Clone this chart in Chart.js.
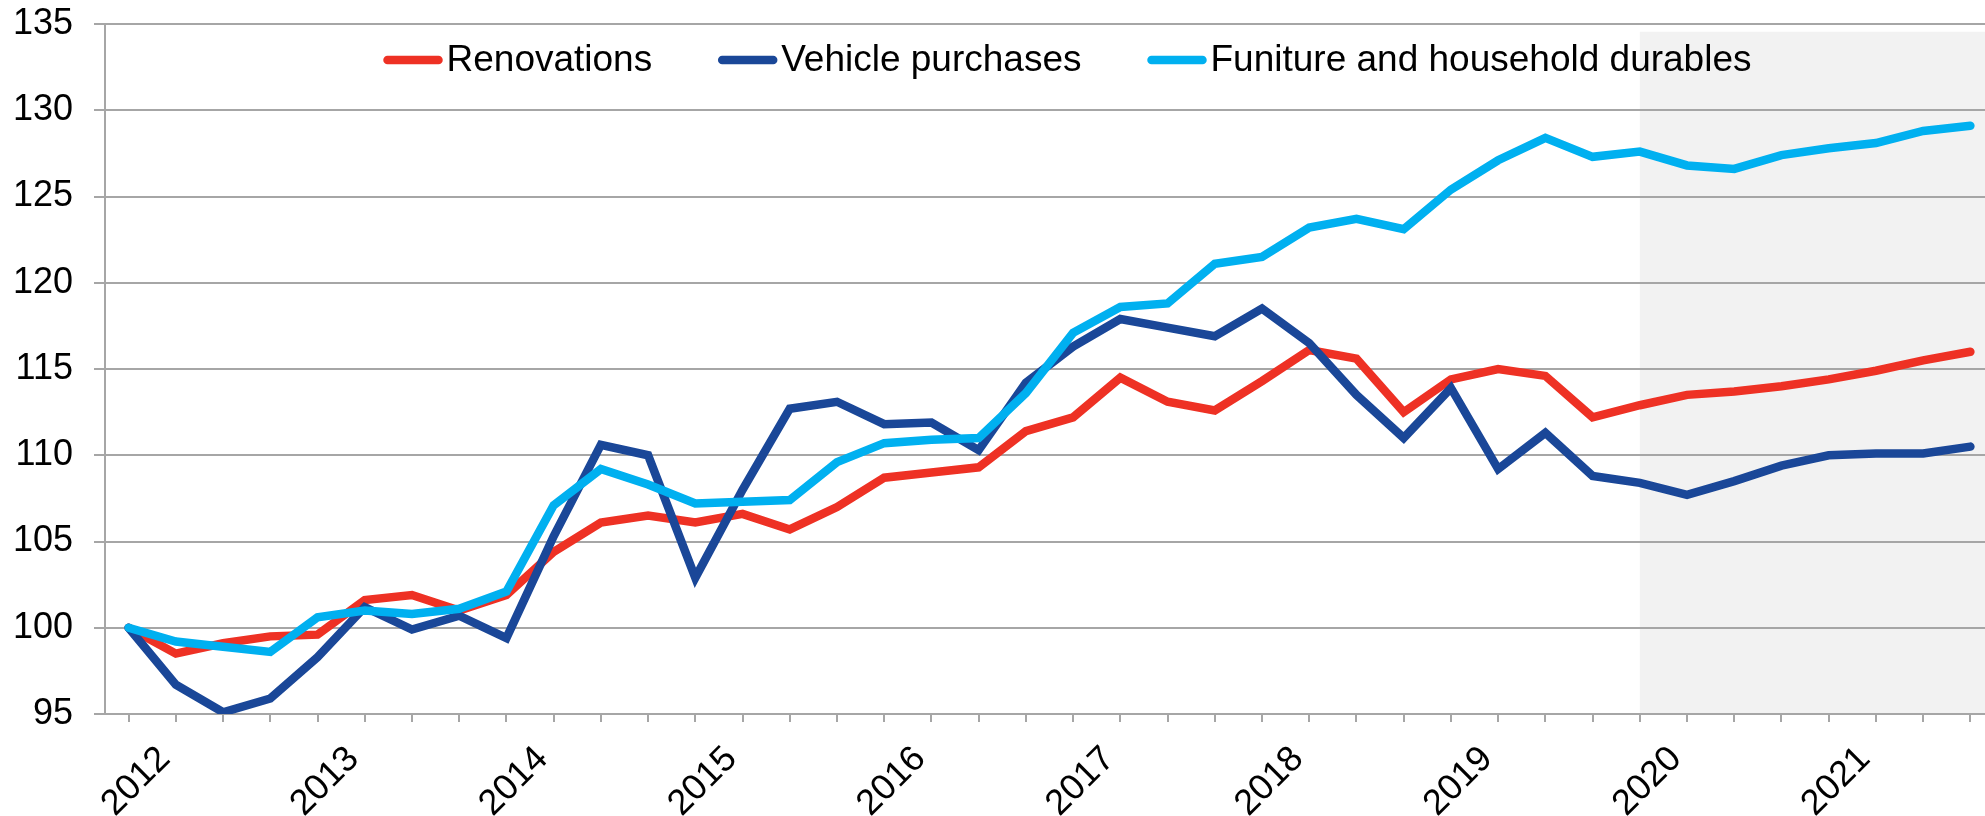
<!DOCTYPE html>
<html>
<head>
<meta charset="utf-8">
<script src="https://cdn.jsdelivr.net/npm/chart.js@4.4.1/dist/chart.umd.min.js"></script>
<style>
    html, body { margin: 0; padding: 0; background: #fff; overflow: hidden; }
    #wrap { width: 1994px; height: 816px; }
</style>
</head>
<body>
<div id="wrap"><canvas id="chart" width="1994" height="816"></canvas></div>
<script>
// カテゴリ（四半期）
const years = [2012, 2013, 2014, 2015, 2016, 2017, 2018, 2019, 2020, 2021];
const quarters = [];
years.forEach(y => {
    for (let q = 1; q <= 4; q++) quarters.push(y + "Q" + q);
});

// 系列
const renovations = [
    100.0, 98.5, 99.1, 99.5, 99.6, 101.6, 101.9, 101.0, 101.9, 104.4,
    106.1, 106.5, 106.1, 106.6, 105.7, 107.0, 108.7, 109.0, 109.3, 111.4,
    112.2, 114.5, 113.1, 112.6, 114.3, 116.1, 115.6, 112.5, 114.4, 115.0,
    114.6, 112.2, 112.9, 113.5, 113.7, 114.0, 114.4, 114.9, 115.5, 116.0
];
const vehicles = [
    100.0, 96.7, 95.1, 95.9, 98.3, 101.2, 99.9, 100.7, 99.4, 105.3,
    110.6, 110.0, 102.9, 108.0, 112.7, 113.1, 111.8, 111.9, 110.3, 114.2,
    116.3, 117.9, 117.4, 116.9, 118.5, 116.5, 113.5, 111.0, 113.9, 109.2,
    111.3, 108.8, 108.4, 107.7, 108.5, 109.4, 110.0, 110.1, 110.1, 110.5
];
const furniture = [
    100.0, 99.2, 98.9, 98.6, 100.6, 101.0, 100.8, 101.1, 102.1, 107.1,
    109.2, 108.3, 107.2, 107.3, 107.4, 109.6, 110.7, 110.9, 111.0, 113.6,
    117.1, 118.6, 118.8, 121.1, 121.5, 123.2, 123.7, 123.1, 125.4, 127.1,
    128.4, 127.3, 127.6, 126.8, 126.6, 127.4, 127.8, 128.1, 128.8, 129.1
];
const seriesNames = ["Renovations", "Vehicle purchases", "Funiture and household durables"];

// 目盛
const yMin = 95;
const yMax = 135;
const yStep = 5;

// 予測期間の網掛け
const shadeFrom = "2020Q1";
const shadeTop = 134.55;

const FONT = "'Liberation Sans', Arial, sans-serif";
const GRID = "#a6a6a6";

// 網掛け
const shadePlugin = {
    id: "forecastShade",
    beforeDraw(chart) {
        const { ctx, chartArea, scales } = chart;
        const x0 = scales.x.getPixelForValue(quarters.indexOf(shadeFrom));
        const y0 = scales.y.getPixelForValue(shadeTop);
        ctx.save();
        ctx.fillStyle = "#f2f2f2";
        ctx.fillRect(x0, y0, chartArea.right - x0, chartArea.bottom - y0);
        ctx.restore();
    }
};

// 凡例（グラフ内）
const legendPlugin = {
    id: "innerLegend",
    afterDraw(chart) {
        const { ctx, chartArea } = chart;
        const sampleLen = 59;
        const textGap = 4;
        const itemGap = 66;
        const y = 60;
        ctx.save();
        ctx.font = "37px " + FONT;
        const items = chart.data.datasets.map(ds => ({
            label: ds.label,
            color: ds.borderColor,
            w: ctx.measureText(ds.label).width
        }));
        let total = 0;
        items.forEach((it, i) => {
            total += sampleLen + textGap + it.w + (i < items.length - 1 ? itemGap : 0);
        });
        let x = (chartArea.left + chartArea.right) / 2 + 18 - total / 2;
        items.forEach(it => {
            ctx.strokeStyle = it.color;
            ctx.lineWidth = 8.5;
            ctx.lineCap = "round";
            ctx.beginPath();
            ctx.moveTo(x + 4, y);
            ctx.lineTo(x + sampleLen - 4, y);
            ctx.stroke();
            ctx.fillStyle = "#000";
            ctx.textBaseline = "middle";
            ctx.textAlign = "left";
            ctx.fillText(it.label, x + sampleLen + textGap, y + 1);
            x += sampleLen + textGap + it.w + itemGap;
        });
        ctx.restore();
    }
};

function lineSet(label, data, color, order) {
    return {
        label: label,
        data: data,
        borderColor: color,
        backgroundColor: color,
        borderWidth: 8.5,
        borderCapStyle: "round",
        borderJoinStyle: "miter",
        pointRadius: 0,
        tension: 0,
        fill: false,
        order: order
    };
}

new Chart(document.getElementById("chart"), {
    type: "line",
    data: {
        labels: quarters,
        datasets: [
            lineSet(seriesNames[0], renovations, "#ee3124", 3),
            lineSet(seriesNames[1], vehicles, "#1a4798", 2),
            lineSet(seriesNames[2], furniture, "#00b0f0", 1)
        ]
    },
    options: {
        responsive: false,
        animation: false,
        layout: {
            padding: { top: 24, right: 0, bottom: 0, left: 0 }
        },
        scales: {
            x: {
                offset: true,
                grid: {
                    display: true,
                    offset: false,
                    drawOnChartArea: false,
                    drawTicks: true,
                    tickLength: 8,
                    color: GRID,
                    lineWidth: 2
                },
                border: { color: GRID, width: 2 },
                ticks: {
                    autoSkip: false,
                    minRotation: 45,
                    maxRotation: 45,
                    padding: 16,
                    labelOffset: 36,
                    color: "#000",
                    font: { family: FONT, size: 36 },
                    callback(value, index) {
                        const q = quarters[index];
                        return q.endsWith("Q1") ? q.slice(0, 4) : "";
                    }
                },
                afterFit(scale) {
                    scale.height = 102;
                    scale.paddingLeft = 0;
                    scale.paddingRight = 0;
                }
            },
            y: {
                min: yMin,
                max: yMax,
                ticks: {
                    stepSize: yStep,
                    padding: 21,
                    color: "#000",
                    font: { family: FONT, size: 36 }
                },
                grid: {
                    color: GRID,
                    lineWidth: 2,
                    tickLength: 11
                },
                border: { color: GRID, width: 2 },
                afterFit(scale) {
                    scale.width = 105;
                    scale.paddingTop = 0;
                    scale.paddingBottom = 0;
                }
            }
        },
        plugins: {
            legend: { display: false },
            tooltip: { enabled: false }
        }
    },
    plugins: [shadePlugin, legendPlugin]
});
</script>
</body>
</html>
